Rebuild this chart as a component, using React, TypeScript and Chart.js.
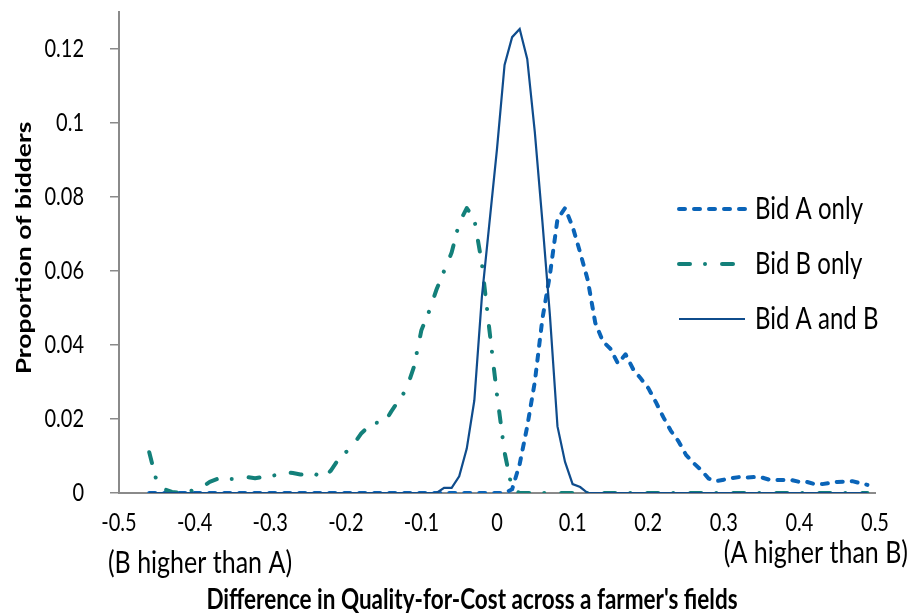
import React, { useEffect, useRef } from 'react';
import { Chart, registerables } from 'chart.js';

Chart.register(...registerables);

// ---------- data ----------
const xValues = [
  -0.46, -0.45, -0.44, -0.43, -0.42, -0.41, -0.40, -0.39, -0.38, -0.37,
  -0.36, -0.35, -0.34, -0.33, -0.32, -0.31, -0.30, -0.29, -0.28, -0.27,
  -0.26, -0.25, -0.24, -0.23, -0.22, -0.21, -0.20, -0.19, -0.18, -0.17,
  -0.16, -0.15, -0.14, -0.13, -0.12, -0.11, -0.10, -0.09, -0.08, -0.07,
  -0.06, -0.05, -0.04, -0.03, -0.02, -0.01, 0, 0.01, 0.02, 0.03,
  0.04, 0.05, 0.06, 0.07, 0.08, 0.09, 0.10, 0.11, 0.12, 0.13,
  0.14, 0.15, 0.16, 0.17, 0.18, 0.19, 0.20, 0.21, 0.22, 0.23,
  0.24, 0.25, 0.26, 0.27, 0.28, 0.29, 0.30, 0.31, 0.32, 0.33,
  0.34, 0.35, 0.36, 0.37, 0.38, 0.39, 0.40, 0.41, 0.42, 0.43,
  0.44, 0.45, 0.46, 0.47, 0.48, 0.49,
];

const bidAOnly = [
  0, 0, 0, 0, 0, 0, 0, 0, 0, 0,
  0, 0, 0, 0, 0, 0, 0, 0, 0, 0,
  0, 0, 0, 0, 0, 0, 0, 0, 0, 0,
  0, 0, 0, 0, 0, 0, 0, 0, 0, 0,
  0, 0, 0, 0, 0, 0, 0, 0, 0.001, 0.0078,
  0.018, 0.030, 0.047, 0.059, 0.074, 0.077, 0.072, 0.065, 0.0576, 0.046,
  0.041, 0.039, 0.035, 0.0375, 0.0335, 0.031, 0.0284, 0.0246, 0.0205, 0.0168,
  0.014, 0.0103, 0.0081, 0.0062, 0.0039, 0.0032, 0.0036, 0.004, 0.0043, 0.0042,
  0.0043, 0.0042, 0.0036, 0.0035, 0.0035, 0.0035, 0.003, 0.003, 0.0024, 0.0024,
  0.0027, 0.003, 0.0031, 0.0032, 0.0027, 0.0022,
];

const bidBOnly = [
  0.011, 0.003, 0.001, 0.0003, 0, 0.0003, 0.0008, 0.0016, 0.003, 0.0038,
  0.0038, 0.0038, 0.004, 0.0043, 0.004, 0.0043, 0.0046, 0.0049, 0.0057, 0.0054,
  0.005, 0.005, 0.0051, 0.004, 0.006, 0.009, 0.011, 0.013, 0.016, 0.018,
  0.019, 0.0187, 0.022, 0.025, 0.028, 0.034, 0.044, 0.049, 0.055, 0.060,
  0.065, 0.073, 0.077, 0.074, 0.062, 0.044, 0.0265, 0.011, 0.001, 0,
  0, 0, 0, 0, 0, 0, 0, 0, 0, 0,
  0, 0, 0, 0, 0, 0, 0, 0, 0, 0,
  0, 0, 0, 0, 0, 0, 0, 0, 0, 0,
  0, 0, 0, 0, 0, 0, 0, 0, 0, 0,
  0, 0, 0, 0, 0, 0,
];

const bidAandB = [
  0, 0, 0, 0, 0, 0, 0, 0, 0, 0,
  0, 0, 0, 0, 0, 0, 0, 0, 0, 0,
  0, 0, 0, 0, 0, 0, 0, 0, 0, 0,
  0, 0, 0, 0, 0, 0, 0, 0, 0, 0.0014,
  0.0014, 0.0045, 0.012, 0.025, 0.053, 0.073, 0.093, 0.1157, 0.1232, 0.1254,
  0.1173, 0.0976, 0.0735, 0.048, 0.018, 0.0084, 0.0024, 0.0016, 0, 0,
  0, 0, 0, 0, 0, 0, 0, 0, 0, 0,
  0, 0, 0, 0, 0, 0, 0, 0, 0, 0,
  0, 0, 0, 0, 0, 0, 0, 0, 0, 0,
  0, 0, 0, 0, 0, 0,
];

const seriesLabels = ['Bid A only', 'Bid B only', 'Bid A and B'];
const xTicks = [-0.5, -0.4, -0.3, -0.2, -0.1, 0, 0.1, 0.2, 0.3, 0.4, 0.5];
const xTickLabels = ['-0.5', '-0.4', '-0.3', '-0.2', '-0.1', '0', '0.1', '0.2', '0.3', '0.4', '0.5'];
const yTicks = [0, 0.02, 0.04, 0.06, 0.08, 0.1, 0.12];
const yTickLabels = ['0', '0.02', '0.04', '0.06', '0.08', '0.1', '0.12'];
const xTitle = "Difference in Quality-for-Cost across a farmer's fields";
const yTitle = 'Proportion of bidders';
const leftNote = '(B higher than A)';
const rightNote = '(A higher than B)';

// ---------- styles ----------
const FONT = 'Lato, "Open Sans", sans-serif';
const SY = 1.26; // vertical stretch of glyphs, as in the reference
const TEXT = '#000000';
const AXIS = '#8a8a8a';
const BLUE = '#0a64b8';
const TEAL = '#13807a';
const NAVY = '#0f4c8c';

function drawText(
  ctx: CanvasRenderingContext2D,
  text: string,
  x: number,
  y: number,
  font: string,
  align: CanvasTextAlign,
  rotate = false,
) {
  ctx.save();
  ctx.translate(x, y);
  if (rotate) {
    ctx.rotate(-Math.PI / 2);
    ctx.scale(SY, 1);
  } else {
    ctx.scale(1, SY);
  }
  ctx.font = font;
  ctx.textAlign = align;
  ctx.textBaseline = 'middle';
  ctx.fillStyle = TEXT;
  ctx.fillText(text, 0, 0);
  ctx.restore();
}

const textPlugin = {
  id: 'textPlugin',
  afterDraw(chart: any) {
    const { ctx, scales, chartArea } = chart;
    const xs = scales.x;
    const ys = scales.y;
    const tickFont = `20px ${FONT}`;
    yTicks.forEach((v, i) => {
      drawText(ctx, yTickLabels[i], chartArea.left - 35, ys.getPixelForValue(v), tickFont, 'right');
    });
    xTicks.forEach((v, i) => {
      drawText(ctx, xTickLabels[i], xs.getPixelForValue(v), chartArea.bottom + 30, tickFont, 'center');
    });
    const noteFont = `25px ${FONT}`;
    drawText(ctx, leftNote, 200, chartArea.bottom + 70, noteFont, 'center');
    drawText(ctx, rightNote, 908, chartArea.bottom + 60, noteFont, 'right');
    drawText(ctx, xTitle, 472, chartArea.bottom + 107, `bold 22.5px ${FONT}`, 'center');
    drawText(ctx, yTitle, 24, 248, `bold 21px ${FONT}`, 'center', true);

    // legend
    const rows = [209, 264, 319];
    chart.data.datasets.forEach((ds: any, i: number) => {
      const yy = rows[i];
      ctx.save();
      ctx.strokeStyle = ds.borderColor;
      ctx.lineWidth = ds.borderWidth;
      ctx.lineCap = ds.borderCapStyle || 'butt';
      ctx.setLineDash(ds.borderDash || []);
      ctx.beginPath();
      ctx.moveTo(679, yy);
      ctx.lineTo(745, yy);
      ctx.stroke();
      ctx.restore();
      drawText(ctx, ds.label, 755, yy, `24px ${FONT}`, 'left');
    });
  },
};

export default function App() {
  const ref = useRef<HTMLCanvasElement | null>(null);

  useEffect(() => {
    const canvas = ref.current;
    if (!canvas) return;
    const toPoints = (arr: number[]) => xValues.map((x, i) => ({ x, y: arr[i] }));
    const chart = new Chart(canvas, {
      type: 'line',
      data: {
        datasets: [
          {
            label: seriesLabels[0],
            data: toPoints(bidAOnly),
            borderColor: BLUE,
            backgroundColor: BLUE,
            borderWidth: 4,
            borderDash: [6, 9],
            borderCapStyle: 'round',
            borderJoinStyle: 'round',
            pointRadius: 0,
            tension: 0,
            fill: false,
            order: 2,
          },
          {
            label: seriesLabels[1],
            data: toPoints(bidBOnly),
            borderColor: TEAL,
            backgroundColor: TEAL,
            borderWidth: 4,
            borderDash: [11, 15, 0.01, 17],
            borderCapStyle: 'round',
            borderJoinStyle: 'round',
            pointRadius: 0,
            tension: 0,
            fill: false,
            order: 1,
          },
          {
            label: seriesLabels[2],
            data: toPoints(bidAandB),
            borderColor: NAVY,
            backgroundColor: NAVY,
            borderWidth: 2.2,
            borderCapStyle: 'butt',
            borderJoinStyle: 'miter',
            pointRadius: 0,
            tension: 0,
            fill: false,
            order: 0,
          },
        ],
      } as any,
      options: {
        responsive: false,
        animation: false,
        devicePixelRatio: 1,
        layout: { padding: { left: 0, right: 37, top: 12, bottom: 0 } },
        plugins: {
          legend: { display: false },
          tooltip: { enabled: false },
          title: { display: false },
        },
        scales: {
          x: {
            type: 'linear',
            min: -0.5,
            max: 0.5,
            afterBuildTicks: (s: any) => {
              s.ticks = xTicks.map((v) => ({ value: v }));
            },
            afterFit: (s: any) => {
              s.height = 120;
            },
            ticks: { display: false },
            grid: { display: false, drawTicks: false },
            border: { display: true, color: AXIS, width: 2 },
          },
          y: {
            type: 'linear',
            min: 0,
            max: 0.13,
            afterBuildTicks: (s: any) => {
              s.ticks = yTicks.map((v) => ({ value: v }));
            },
            afterFit: (s: any) => {
              s.width = 119;
            },
            ticks: { display: false },
            grid: {
              display: true,
              drawOnChartArea: false,
              drawTicks: true,
              tickLength: 9,
              color: AXIS,
              lineWidth: 1.5,
            },
            border: { display: true, color: AXIS, width: 2 },
          },
        },
      } as any,
      plugins: [textPlugin],
    });
    return () => chart.destroy();
  }, []);

  return (
    <div style={{ position: 'fixed', left: 0, top: 0, width: 912, height: 613, background: '#ffffff' }}>
      <canvas ref={ref} width={912} height={613} style={{ display: 'block', width: 912, height: 613 }} />
    </div>
  );
}
